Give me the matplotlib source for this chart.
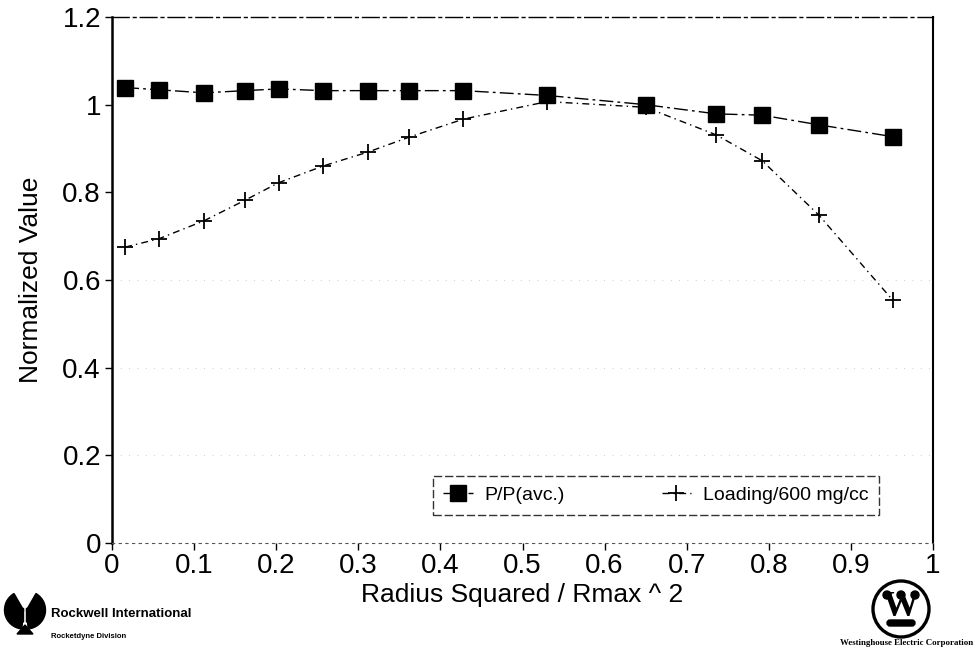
import matplotlib
matplotlib.use('Agg')

import numpy as np
import matplotlib.pyplot as plt
from matplotlib.patches import Circle, Wedge, Polygon, FancyBboxPatch

plt.rcParams.update({
    "font.family": ["Liberation Sans", "DejaVu Sans"],
    "font.size": 20,
})

# radial profile, normalised
r2 = [0.016, 0.057, 0.112, 0.162, 0.203, 0.257, 0.312, 0.362, 0.428,
      0.530, 0.650, 0.736, 0.792, 0.861, 0.951]
power = [1.039, 1.034, 1.027, 1.032, 1.036, 1.032, 1.032, 1.032, 1.032,
         1.021, 1.000, 0.979, 0.976, 0.954, 0.927]
loading = [0.675, 0.694, 0.735, 0.782, 0.822, 0.860, 0.892, 0.926, 0.967,
           1.007, 0.994, 0.931, 0.872, 0.748, 0.554]

xticks = [0, 0.1, 0.2, 0.3, 0.4, 0.5, 0.6, 0.7, 0.8, 0.9, 1]
xticklabels = ['0', '0.1', '0.2', '0.3', '0.4', '0.5', '0.6', '0.7', '0.8', '0.9', '1']
yticks = [0, 0.2, 0.4, 0.6, 0.8, 1.0, 1.2]
yticklabels = ['0', '0.2', '0.4', '0.6', '0.8', '1', '1.2']

W, H = 976, 652
dpi = 100
fig = plt.figure(figsize=(W/dpi, H/dpi), dpi=dpi)

ax = fig.add_axes([112/W, 1 - 543/H, (933-112)/W, (543-17)/H])

ax.plot(r2, power, color='black', lw=1.0, ls=(0, (10, 3, 2, 3)),
        marker='s', ms=11, mfc='black', mec='black', label='P/P(avc.)')
ax.plot(r2, loading, color='black', lw=1.0, ls=(0, (5, 3, 1, 3)),
        marker='+', ms=12, mew=1.3, label='Loading/600 mg/cc')

# faint, broken grid lines
for yv in [0.2, 0.4, 0.6]:
    ax.axhline(yv, color='#bbbbbb', lw=0.6, ls=(0, (1, 9)), zorder=0)

ax.set_xlim(0, 1)
ax.set_ylim(0, 1.2)
ax.set_xticks(xticks)
ax.set_xticklabels(xticklabels)
ax.set_yticks(yticks)
ax.set_yticklabels(yticklabels)
ax.tick_params(direction='out', length=5, width=1, pad=3, labelsize=20)
ax.tick_params(axis='x', pad=2)

ax.spines['left'].set_linewidth(1.8)
ax.spines['right'].set_linewidth(1.5)
ax.spines['top'].set_linewidth(1.0)
ax.spines['top'].set_linestyle((0, (12, 3, 2, 3)))
ax.spines['bottom'].set_linewidth(0.8)
ax.spines['bottom'].set_linestyle((0, (2, 4)))
ax.spines['bottom'].set_color('#555555')

ax.set_xlabel('Radius Squared / Rmax ^ 2', fontsize=19, labelpad=3)
ax.set_ylabel('Normalized Value', fontsize=19, labelpad=14)

leg = ax.legend(loc='lower right', bbox_to_anchor=(0.946, 0.035), ncol=2,
                fontsize=14, frameon=True, fancybox=False, handlelength=1.5,
                columnspacing=5.0, borderpad=0.55, handletextpad=0.6)
leg.get_frame().set_edgecolor('black')
leg.get_frame().set_linewidth(1.0)
leg.get_frame().set_linestyle((0, (6, 2)))

# logos drawn in pixel coordinates
lax = fig.add_axes([0, 0, 1, 1], zorder=-1)
lax.set_xlim(0, W)
lax.set_ylim(H, 0)
lax.axis('off')

# Rockwell emblem
cx, cy, rr = 25, 610, 19
lax.add_patch(Wedge((cx - 1.5, cy), rr, 95, 240, color='black'))
lax.add_patch(Wedge((cx + 1.5, cy), rr, -60, 85, color='black'))
lax.add_patch(Polygon([(cx - 9, cy + 12), (cx - 1.5, cy - 2), (cx - 1.5, cy + 12)], color='black'))
lax.add_patch(Polygon([(cx + 9, cy + 12), (cx + 1.5, cy - 2), (cx + 1.5, cy + 12)], color='black'))
lax.add_patch(Polygon([(cx - 8, cy + 24), (cx + 8, cy + 24), (cx, cy + 15)], color='black'))
lax.text(51, 614, 'Rockwell International', fontsize=9.5, fontweight='bold',
         va='center', ha='left')
lax.text(51, 636, 'Rocketdyne Division', fontsize=5.5, fontweight='bold',
         va='center', ha='left')

# Westinghouse emblem
wx, wy = 901, 609
lax.add_patch(Circle((wx, wy), 28, fill=False, lw=2.4, color='black'))
lax.text(wx, wy - 2, 'W', fontsize=26, fontweight='bold', family='Liberation Serif',
         ha='center', va='center')
for dx in (-14, 0, 14):
    lax.add_patch(Circle((wx + dx, wy - 14), 4, color='black'))
lax.add_patch(FancyBboxPatch((wx - 14, wy + 11), 28, 6,
                             boxstyle='round,pad=0,rounding_size=3', color='black'))
lax.text(973, 643, 'Westinghouse Electric Corporation', fontsize=6.4, fontweight='bold',
         family='Liberation Serif', va='center', ha='right')

fig.savefig('out.png', dpi=dpi)
